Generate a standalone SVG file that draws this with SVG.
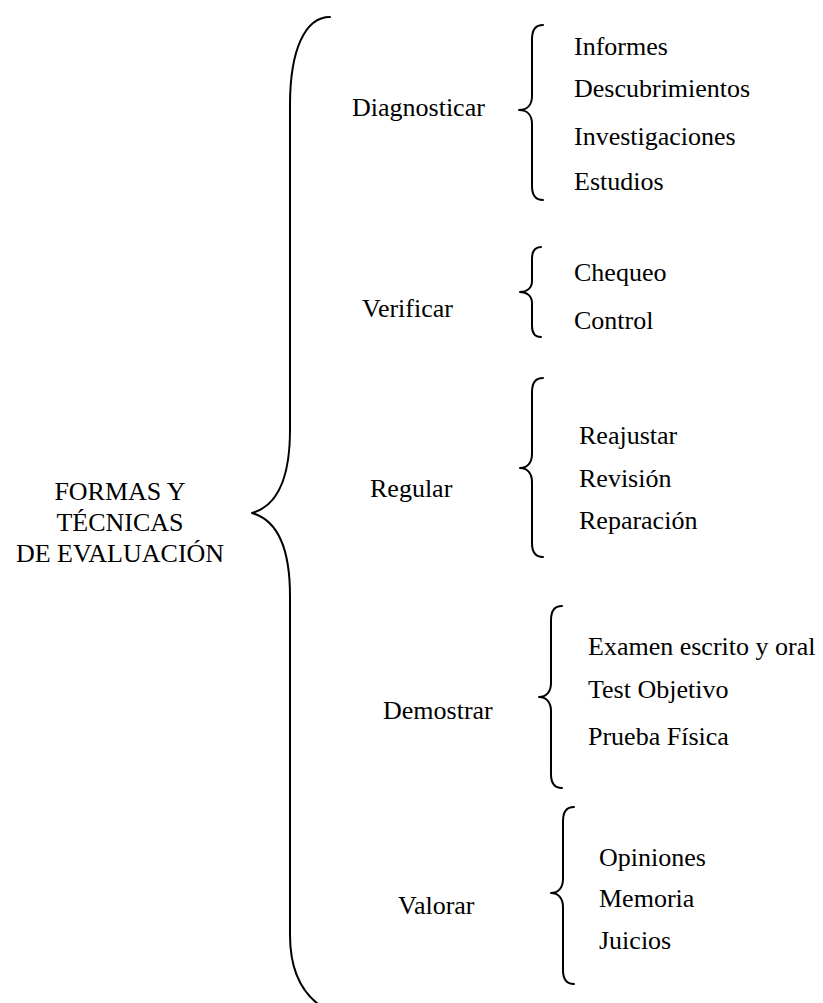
<svg xmlns="http://www.w3.org/2000/svg" width="823" height="1003" viewBox="0 0 823 1003">
<style>
text{font-family:"Liberation Serif","Times New Roman",serif;font-size:26px;fill:#000}
.c{text-anchor:middle}
.b{fill:none;stroke:#000;stroke-width:2;stroke-linecap:round;stroke-linejoin:round}
</style>
<rect width="823" height="1003" fill="#fff"/>
<g id="root">
<text class="c" x="120" y="500">FORMAS Y</text>
<text class="c" x="120" y="531">TÉCNICAS</text>
<text class="c" x="120" y="562">DE EVALUACIÓN</text>
</g>
<g id="connectors">
<path class="b" d="M330,17 C305,17 290,50 290,105 L290,430 C290,478 277,506 252,513 C277,520 290,548 290,596 L290,935 C290,968 300,990 318,1004"/>
<path class="b" d="M543,25 C536,25 532,30 532,39 L532,96 C532,105 527,110 519,110 C527,110 532,115 532,124 L532,186 C532,195 536,200 543,200"/>
<path class="b" d="M541,247 C535,247 532,251 532,259 L532,281 C532,288 527,292 520,292 C527,292 532,296 532,303 L532,326 C532,334 535,337 541,337"/>
<path class="b" d="M543,378 C536,378 532,383 532,392 L532,454 C532,463 527,468 520,468 C527,468 532,473 532,482 L532,543 C532,552 536,557 543,557"/>
<path class="b" d="M562,606 C555,606 551,611 551,620 L551,683 C551,692 546,697 539,697 C546,697 551,702 551,711 L551,774 C551,783 555,788 562,788"/>
<path class="b" d="M574,807 C567,807 563,812 563,821 L563,879 C563,888 558,893 551,893 C558,893 563,898 563,907 L563,970 C563,979 567,984 574,984"/>
</g>
<g id="diagnosticar">
<text x="352" y="116">Diagnosticar</text>
<text x="574" y="55">Informes</text>
<text x="574" y="97">Descubrimientos</text>
<text x="574" y="145">Investigaciones</text>
<text x="574" y="190">Estudios</text>
</g>
<g id="verificar">
<text x="362" y="317">Verificar</text>
<text x="574" y="281">Chequeo</text>
<text x="574" y="329">Control</text>
</g>
<g id="regular">
<text x="370" y="497">Regular</text>
<text x="579" y="444">Reajustar</text>
<text x="579" y="487">Revisión</text>
<text x="579" y="529">Reparación</text>
</g>
<g id="demostrar">
<text x="383" y="719">Demostrar</text>
<text x="588" y="655">Examen escrito y oral</text>
<text x="588" y="698">Test Objetivo</text>
<text x="588" y="745">Prueba Física</text>
</g>
<g id="valorar">
<text x="398" y="914">Valorar</text>
<text x="599" y="866">Opiniones</text>
<text x="599" y="907">Memoria</text>
<text x="599" y="949">Juicios</text>
</g>
</svg>
